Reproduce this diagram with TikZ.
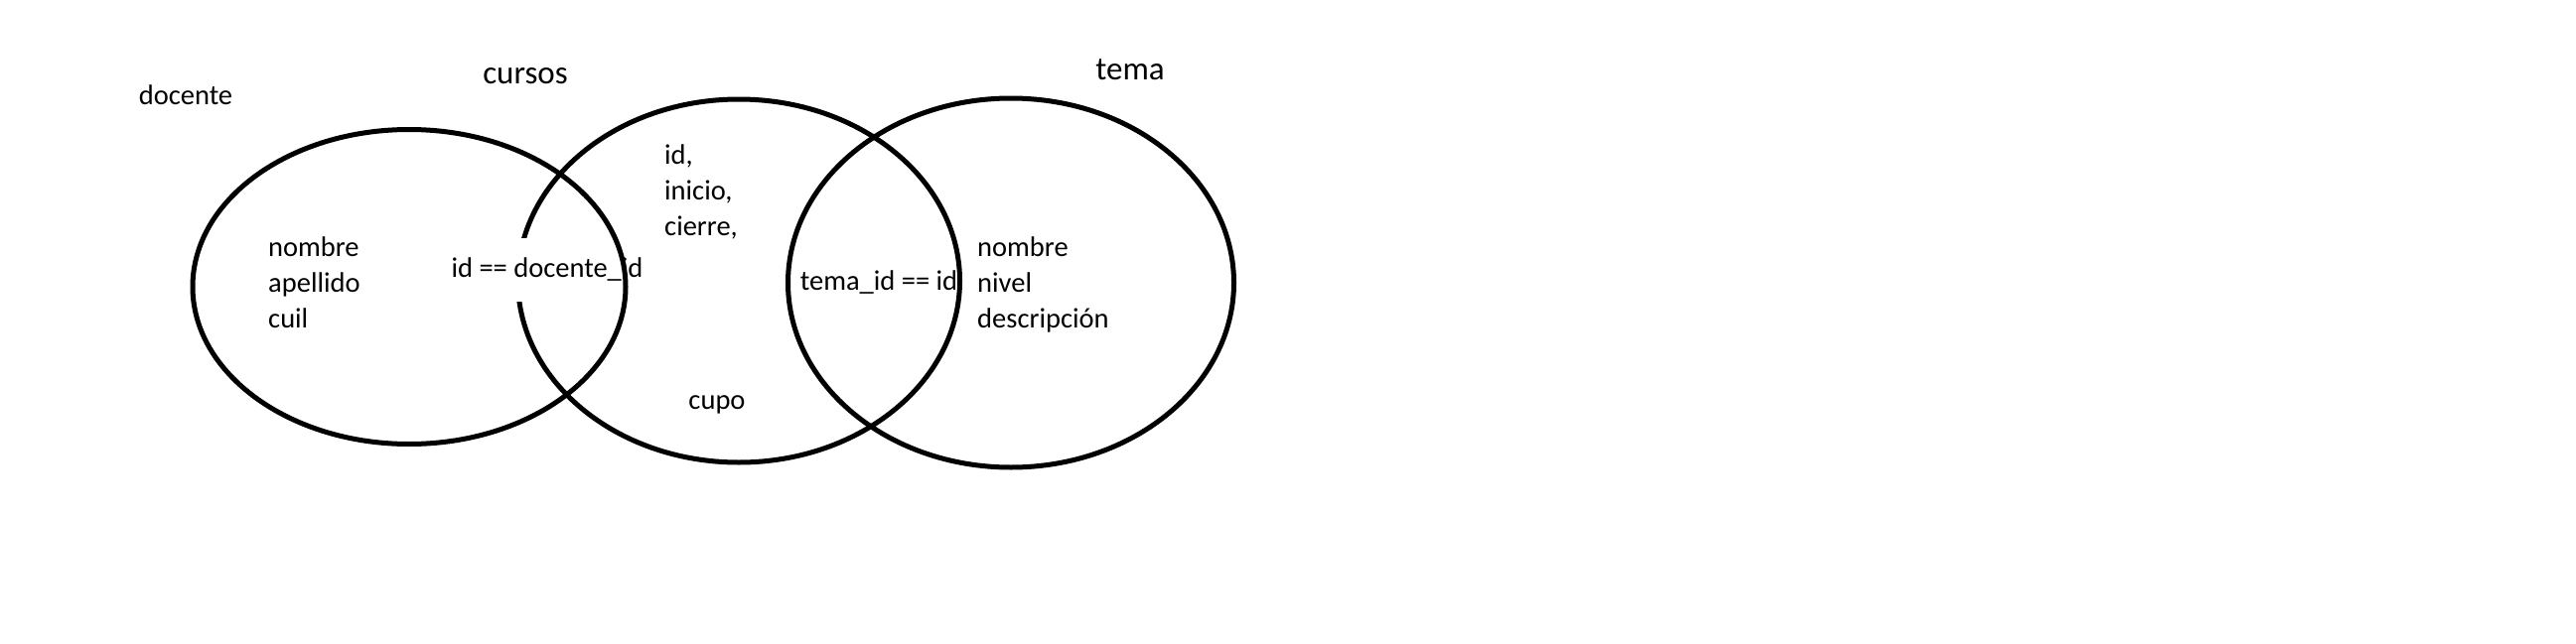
\documentclass[tikz,border=0pt]{standalone}
\usepackage{fontspec}
\setmainfont{Carlito}
\usetikzlibrary{shapes.geometric}

\begin{document}
\begin{tikzpicture}[x=1pt,y=-1pt,
  set/.style={draw,ellipse,line width=5pt,inner sep=0pt},
  lbl/.style={inner sep=0pt,font=\fontsize{28.5}{36}\selectfont,align=left},
  big/.style={lbl,font=\fontsize{33}{40}\selectfont}]
\useasboundingbox (0,0) rectangle (2594,648);
% the three sets
\node[set,minimum width=445pt,minimum height=366pt] (cursos) at (744,283){};
\node[lbl,fill=white,inner ysep=20pt] (join1) at (551,272){id == docente\_id};
\node[set,minimum width=436pt,minimum height=317pt] (docente) at (412,289){};
\node[set,minimum width=449pt,minimum height=372pt] (tema) at (1018,285){};
% names
\node[lbl] (dname) at (187,96){docente};
\node[big] (cname) at (529,77){cursos};
\node[big] (tname) at (1138,70){tema};
% fields
\node[lbl,anchor=west] (dattr) at (270,285){nombre\\apellido\\cuil};
\node[lbl,anchor=west] (cattr) at (669,193){id,\\inicio,\\cierre,};
\node[lbl] (cupo) at (722,408){cupo};
\node[lbl] (join2) at (885,285){tema\_id == id};
\node[lbl,anchor=west] (tattr) at (984,287){nombre\\nivel\\descripción};
\end{tikzpicture}
\end{document}
